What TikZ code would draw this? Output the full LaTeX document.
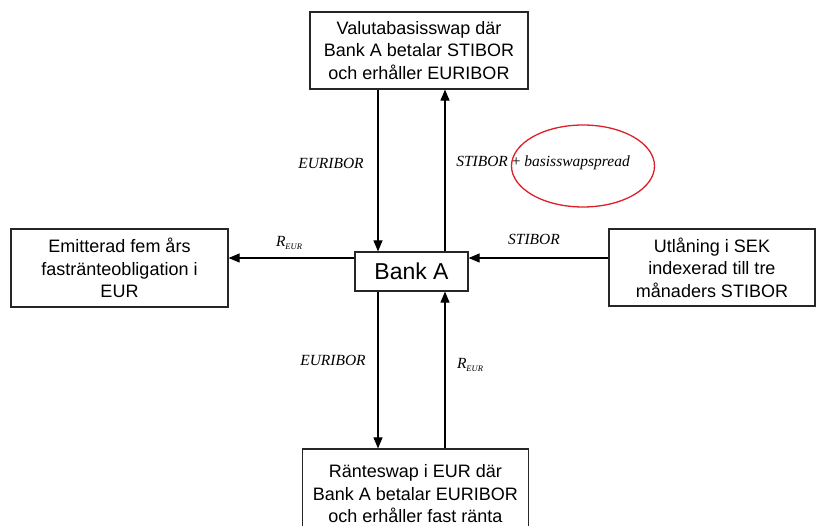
\documentclass[tikz,border=0pt]{standalone}
\usepackage{fontspec}
\setmainfont{Liberation Sans}
\newfontfamily\timesf{Liberation Serif}
\usetikzlibrary{arrows.meta}
\definecolor{ellred}{RGB}{222,30,40}
\newcommand{\REUR}{{\timesf\itshape R\raisebox{-0.45ex}{\fontsize{8.5}{10}\selectfont EUR}}}
\begin{document}
\begin{tikzpicture}[x=1pt,y=-1pt,
  box/.style={draw=black!85, line width=1.2pt, inner sep=0pt, align=center,
    font=\fontsize{18}{22.5}\selectfont},
  arr/.style={line width=1.1pt, -{Triangle[length=11pt,width=9pt]}},
  lab/.style={font=\timesf\itshape\fontsize{15.5}{18}\selectfont, inner sep=0pt}]
\useasboundingbox (0,0) rectangle (816,526);
\clip (0,0) rectangle (816,526);

\node[box, minimum width=218pt, minimum height=77pt] (top) at (419,50.5)
  {Valutabasisswap där\\Bank A betalar STIBOR\\och erhåller EURIBOR};
\node[box, minimum width=217pt, minimum height=78pt] (left) at (119.5,268)
  {Emitterad fem års\\fastränteobligation i\\EUR};
\node[box, minimum width=206pt, minimum height=77pt] (right) at (712,267.5)
  {Utlåning i SEK\\indexerad till tre\\månaders STIBOR};
\node[box, minimum width=113pt, minimum height=39pt, font=\fontsize{23}{26}\selectfont] (bank) at (411.5,271.5) {Bank A};
\node[box, minimum width=225.5pt, minimum height=90pt] (bottom) at (415.4,494)
  {Ränteswap i EUR där\\Bank A betalar EURIBOR\\och erhåller fast ränta};

\coordinate (vl) at (378,0);
\coordinate (vr) at (445,0);
\coordinate (hy) at (0,258);

\draw[arr] (top.south -| vl) -- (bank.north -| vl);
\draw[arr] (bank.north -| vr) -- (top.south -| vr);
\draw[arr] (bank.south -| vl) -- (bottom.north -| vl);
\draw[arr] (bottom.north -| vr) -- (bank.south -| vr);
\draw[arr] (bank.west |- hy) -- (left.east |- hy);
\draw[arr] (right.west |- hy) -- (bank.east |- hy);

\node[lab] (l1) at (331,163) {EURIBOR};
\node[lab] (l2) at (543,163) {STIBOR{\upshape\ + }basisswapspread};
\node[lab] (l3) at (289,243) {\REUR};
\node[lab] (l4) at (534,239) {STIBOR};
\node[lab] (l5) at (333,360) {EURIBOR};
\node[lab] (l6) at (470,365) {\REUR};

\draw[ellred, line width=1.3pt] (583,166) ellipse [x radius=71.5, y radius=41];
\end{tikzpicture}
\end{document}
